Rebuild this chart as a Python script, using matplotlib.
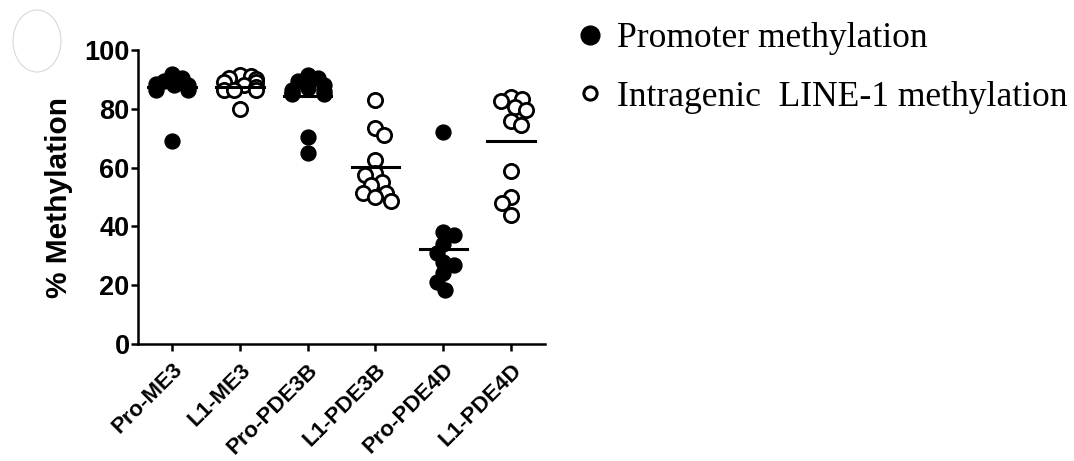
import numpy as np
import matplotlib
matplotlib.use("Agg")
import matplotlib.pyplot as plt
from matplotlib.patches import Ellipse
from matplotlib.lines import Line2D

categories = ["Pro-ME3", "L1-ME3", "Pro-PDE3B", "L1-PDE3B", "Pro-PDE4D", "L1-PDE4D"]
filled = [True, False, True, False, True, False]

pro_me3 = [92, 90.5, 89.5, 88.5, 88, 88, 87.5, 87, 86.5, 86.5, 69]
l1_me3 = [91.5, 91, 90.5, 90, 89, 89, 88, 87.5, 86.5, 86.5, 86.5, 80]
pro_pde3b = [91.5, 90.5, 89.5, 88, 87, 86.5, 86, 85.5, 85, 85, 70.5, 65]
l1_pde3b = [83, 73.5, 71, 62.5, 58, 57.5, 55, 54, 51.5, 51.5, 50, 48.5]
pro_pde4d = [72, 38, 37, 34, 31, 28, 27, 24, 21, 18.5]
l1_pde4d = [84, 83.5, 82.5, 80.5, 79.5, 76, 74.5, 59, 50, 48, 44]
groups = [pro_me3, l1_me3, pro_pde3b, l1_pde3b, pro_pde4d, l1_pde4d]

# horizontal line drawn for each group
center_lines = [87.5, 87.5, 84.5, 60.2, 32.3, 69]

legend_labels = ["Promoter methylation", "Intragenic  LINE-1 methylation"]


def swarm(vals, ax, xc, diam, max_px=16):
    # simple beeswarm in pixel space, points may overlap a bit
    to_px = ax.transData.transform
    x0 = to_px((xc, 0))[0]
    x_unit = to_px((xc + 1, 0))[0] - x0
    ys = [to_px((xc, v))[1] for v in vals]
    order = np.argsort(vals)[::-1]
    placed = []
    offs = np.zeros(len(vals))
    side = 1
    for i in order:
        y = ys[i]
        bad = []
        for xj, yj in placed:
            dy = abs(y - yj)
            if dy < diam:
                w = np.sqrt(diam ** 2 - dy ** 2)
                bad.append((xj - w, xj + w))
        cands = [0.0] + [b[0] for b in bad] + [b[1] for b in bad]
        ok = [c for c in cands if all(not (lo + 1e-6 < c < hi - 1e-6) for lo, hi in bad)]
        ok.sort(key=lambda c: (round(abs(c), 3), -side * c))
        x = ok[0]
        if abs(x) > max_px:
            x = np.sign(x) * max_px
        if x != 0:
            side = -side
        placed.append((x, y))
        offs[i] = x
    return xc + offs / x_unit


fig = plt.figure(figsize=(10.74, 4.61), dpi=100)
ax = fig.add_axes([0.1285, 0.2538, 0.379, 0.6377])
ax.set_xlim(-0.5, 5.5)
ax.set_ylim(0, 100)

for k, vals in enumerate(groups):
    xs = swarm(vals, ax, k, 11)
    if filled[k]:
        ax.scatter(xs, vals, s=115, color="black", edgecolors="black", linewidths=1, zorder=3, clip_on=False)
    else:
        ax.scatter(xs, vals, s=105, facecolors="white", edgecolors="black", linewidths=2.0, zorder=3, clip_on=False)
    ax.plot([k - 0.35, k + 0.35], [center_lines[k], center_lines[k]], color="black", linewidth=2.2, zorder=4)

for side in ["top", "right"]:
    ax.spines[side].set_visible(False)
for side in ["left", "bottom"]:
    ax.spines[side].set_linewidth(1.8)

ax.set_yticks([0, 20, 40, 60, 80, 100])
ax.set_xticks(range(len(categories)))
ax.set_xticklabels(categories, rotation=45, ha="right", va="top", rotation_mode="anchor",
                   fontsize=16, fontweight="bold", family="Liberation Sans")
for lab in ax.get_yticklabels():
    lab.set_fontsize(19.5)
    lab.set_fontweight("bold")
    lab.set_family("Liberation Sans")
ax.tick_params(axis="both", length=5, width=1.8, color="black")
ax.tick_params(axis="y", pad=1)
ax.tick_params(axis="x", pad=6)
ax.set_ylabel("% Methylation", fontsize=21.5, fontweight="bold", family="Liberation Sans", labelpad=8)

# legend outside the axes
handles = [
    Line2D([], [], marker="o", linestyle="none", markersize=13.5, markerfacecolor="black", markeredgecolor="black"),
    Line2D([], [], marker="o", linestyle="none", markersize=9.5, markerfacecolor="white",
           markeredgecolor="black", markeredgewidth=2.2),
]
fig.legend(handles, legend_labels, loc="upper left", bbox_to_anchor=(0.519, 1.0), frameon=False,
           prop={"family": "Liberation Serif", "size": 25.6}, handlelength=0.6, handletextpad=0.45,
           labelspacing=0.72, borderaxespad=0.22)

# faint scan artefact at top-left
fig.patches.append(Ellipse((37 / 1074, 1 - 41 / 461), 48 / 1074, 62 / 461, transform=fig.transFigure,
                           facecolor="none", edgecolor="#d8d8d8", linewidth=0.8))

fig.savefig("out.png", dpi=100)
